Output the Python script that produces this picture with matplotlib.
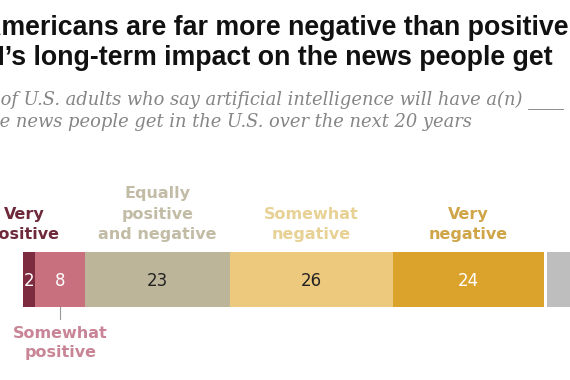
import matplotlib
matplotlib.use("Agg")
import matplotlib.pyplot as plt
from matplotlib.transforms import Affine2D

# Data
categories = ["Very positive", "Somewhat positive", "Equally positive and negative",
              "Somewhat negative", "Very negative", "Not sure"]
values = [2, 8, 23, 26, 24, 17]
colors = ["#7d2b3e", "#c9707f", "#bdb59a", "#edc97d", "#dca32c", "#bebebe"]
num_colors = ["white", "white", "#222222", "#222222", "white", None]
label_texts = ["Very\npositive", "Somewhat\npositive", "Equally\npositive\nand negative",
               "Somewhat\nnegative", "Very\nnegative", None]
label_colors = ["#6e2a3a", "#c98595", "#c2bca6", "#e8d194", "#cfa548", None]

TITLE = ["Americans are far more negative than positive about",
         "AI\u2019s long-term impact on the news people get"]
SUBTITLE = ["% of U.S. adults who say artificial intelligence will have a(n) ____ impact on",
            "the news people get in the U.S. over the next 20 years"]

# Figure is a crop: bar starts at x=22.5px, 6.28px per percentage point
W, H = 570, 380
X0, PX_PER = 22.5, 6.28

fig = plt.figure(figsize=(W / 100, H / 100), dpi=100)
ax = fig.add_axes([0, 0, 1, 1])
ax.set_xlim(-X0 / PX_PER, (W - X0) / PX_PER)
ax.set_ylim(H, 0)
ax.axis("off")
px = Affine2D().scale(1 / W, -1 / H).translate(0, 1) + fig.transFigure
renderer = fig.canvas.get_renderer()


def text_width(s, **kw):
    t = fig.text(0, 0, s, **kw)
    w = t.get_window_extent(renderer).width
    t.remove()
    return w


def cut_text(hidden, shown, x, y, **kw):
    # put the hidden prefix left of the figure edge
    first = shown[0]
    off = text_width(hidden + first, **kw) - text_width(first, **kw)
    fig.text(x - off, y, hidden + shown, transform=px, va="baseline", **kw)


# Title
tkw = dict(family=["Liberation Sans Narrow", "Liberation Sans"], weight="bold", color="#111111")
fs = 20 * 567 / text_width("mericans are far more negative than positive", fontsize=20, **tkw)
tkw["fontsize"] = fs
cut_text("A", TITLE[0][1:], 1, 35, **tkw)
cut_text("AI", TITLE[1][2:], 5, 65, **tkw)

# Subtitle
skw = dict(family="DejaVu Serif", style="italic", color="#858585")
fs2 = 12 * 521 / text_width("of U.S. adults who say artificial intelligence will have a(n)", fontsize=12, **skw)
skw["fontsize"] = fs2
cut_text("% ", SUBTITLE[0][2:], 1, 105, **skw)
cut_text("th", SUBTITLE[1][2:], 0, 127, **skw)

# Bar
BAR_Y, BAR_H = 279.5, 55
left = 0
for i, v in enumerate(values):
    start = left + (0.45 if i == len(values) - 1 else 0)
    ax.barh(BAR_Y, v, left=start, height=BAR_H, color=colors[i], linewidth=0)
    mid = left + v / 2
    if num_colors[i]:
        ax.text(mid, BAR_Y + 1, str(v), ha="center", va="center", fontsize=12,
                color=num_colors[i], family="DejaVu Sans")
    if label_texts[i]:
        lx = mid - 0.75 if i == 0 else mid
        if i == 1:
            ax.plot([mid, mid], [BAR_Y + BAR_H / 2, 319], color="#999999", lw=0.8)
            ax.text(lx, 357, label_texts[i], ha="center", va="baseline", fontsize=11.5,
                    weight="bold", color=label_colors[i], linespacing=1.3)
        else:
            ax.text(lx, 239, label_texts[i], ha="center", va="baseline", fontsize=11.5,
                    weight="bold", color=label_colors[i], linespacing=1.45)
    left += v

fig.savefig("out.png", dpi=100)
